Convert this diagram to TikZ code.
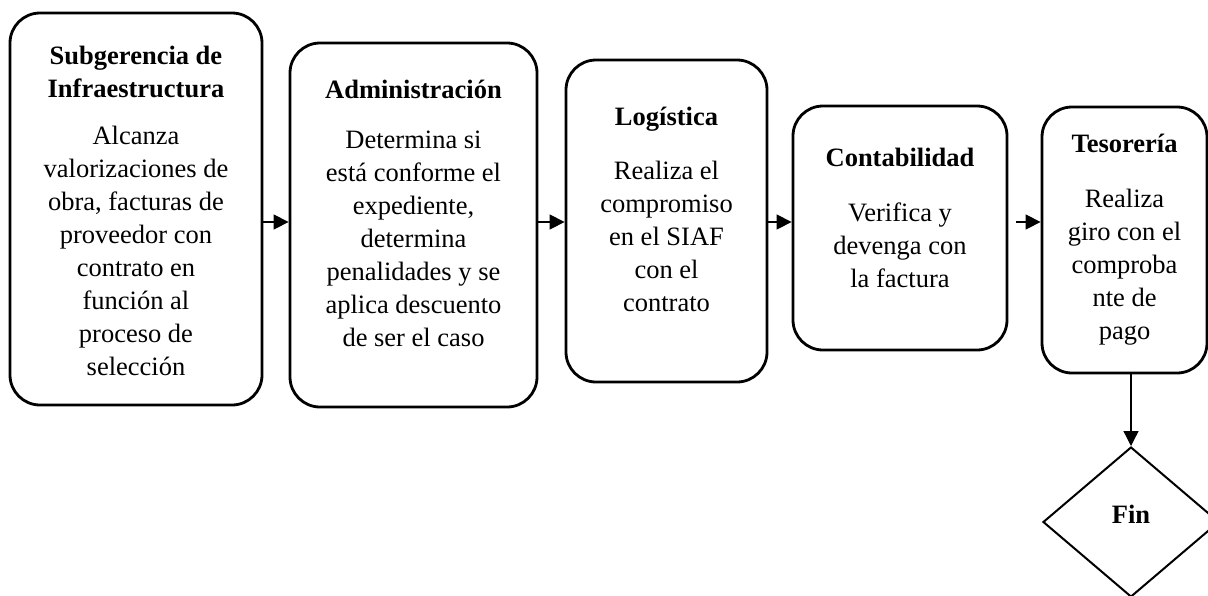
\documentclass[tikz,border=0pt]{standalone}
\usepackage{fontspec}
\setmainfont{Liberation Serif}
\usetikzlibrary{
  arrows.meta,
  shapes.geometric
}
\tikzset{
  proc box/.style={draw,line width=2.8pt,rounded corners=30pt,inner sep=0pt},
  proc text/.style={align=center,inner sep=0pt,font=\fontsize{26.5}{33}\selectfont},
  flow/.style={draw,line width=1.3pt,-{Triangle[length=15pt,width=15pt]}},
  end node/.style={draw,diamond,line width=2pt,inner sep=0pt,
    font=\fontsize{26.5}{33}\selectfont\bfseries},
}

\begin{document}
\begin{tikzpicture}[x=1pt,y=-1pt]
\useasboundingbox (0,0) rectangle (1208,595);
\coordinate (row) at (0,222);
\node[proc box,minimum width=252pt,minimum height=392pt] (sub) at (136,209) {};
\node[proc text] (sub-txt) at ([yshift=-2pt]sub.center)
  {\textbf{Subgerencia de}\\\textbf{Infraestructura}\\[14pt]Alcanza\\valorizaciones de\\obra, facturas de\\proveedor con\\contrato en\\función al\\proceso de\\selección};
\node[proc box,minimum width=247pt,minimum height=364pt] (adm) at (413.5,225) {};
\node[proc text] (adm-txt) at ([yshift=12pt]adm.center)
  {\textbf{Administración}\\[17pt]Determina si\\está conforme el\\expediente,\\determina\\penalidades y se\\aplica descuento\\de ser el caso};
\node[proc box,minimum width=201pt,minimum height=322pt] (log) at (666.5,221) {};
\node[proc text] (log-txt) at ([yshift=12pt]log.center)
  {\textbf{Logística}\\[21pt]Realiza el\\compromiso\\en el SIAF\\con el\\contrato};
\node[proc box,minimum width=214pt,minimum height=244pt] (cont) at (900,228) {};
\node[proc text] (cont-txt) at ([yshift=10pt]cont.center)
  {\textbf{Contabilidad}\\[22pt]Verifica y\\devenga con\\la factura};
\node[proc box,minimum width=165pt,minimum height=266pt] (tes) at (1124.5,240) {};
\node[proc text] (tes-txt) at (tes.center)
  {\textbf{Tesorería}\\[22pt]Realiza\\giro con el\\comproba\\nte de\\pago};
\node[end node,minimum width=176pt,minimum height=150pt] (fin) at (1131,522) {\raisebox{16pt}{Fin}};
\foreach \a/\b in {sub/adm, adm/log, log/cont}
{
  \draw[flow] (\a.east |- row) -- (\b.west |- row);
}
\draw[flow] ([xshift=8pt]cont.east |- row) -- (tes.west |- row);
\draw[flow] (fin.north |- tes.south) -- (fin.north);
\end{tikzpicture}
\end{document}
